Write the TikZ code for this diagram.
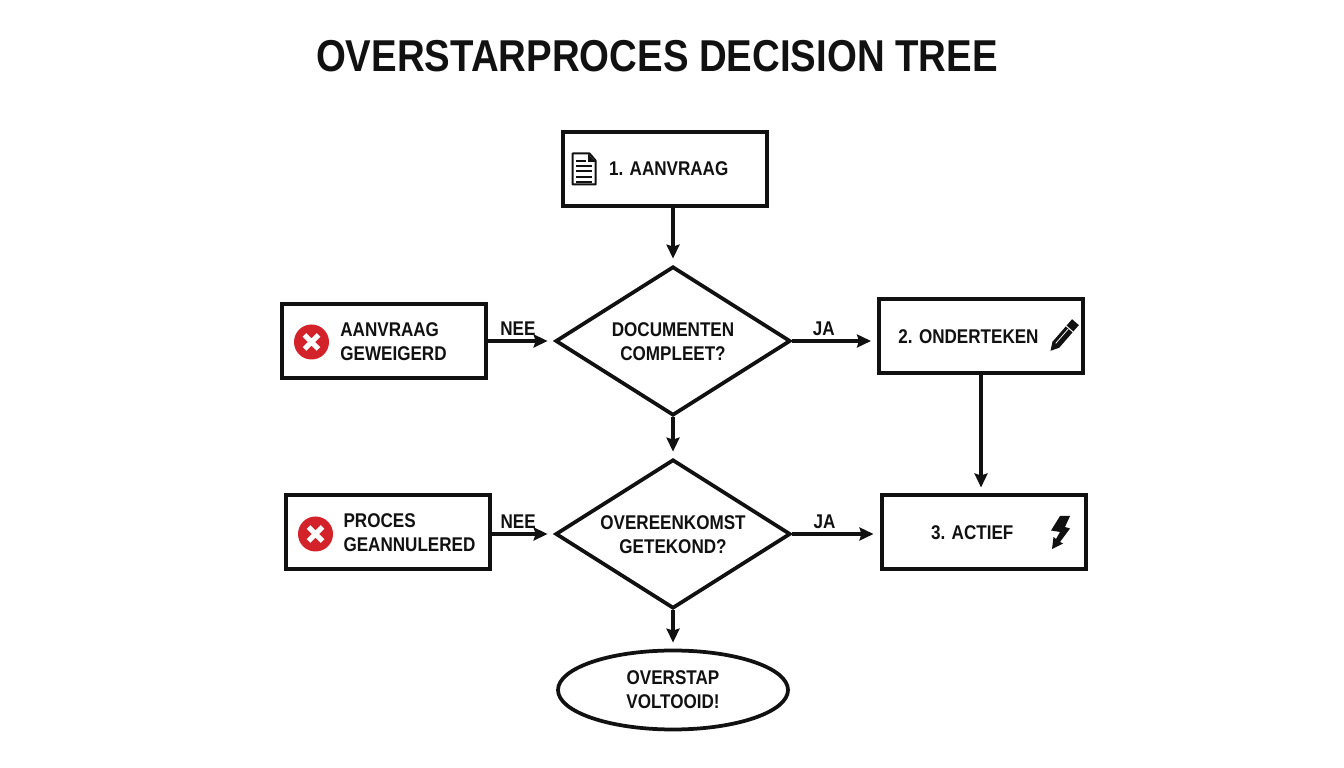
\documentclass[tikz,border=0pt]{standalone}
\usepackage{fontspec}
\setmainfont{Liberation Sans}[FakeStretch=0.86]
\usetikzlibrary{shapes.geometric,calc,arrows.meta}
\definecolor{inkblack}{HTML}{111111}
\definecolor{stopred}{HTML}{D3222A}
\newcommand{\twolines}[3][l]{\raisebox{-0.05cm}[\height][\depth]{\begin{tabular}{@{}#1@{}}#2\\#3\end{tabular}}}
\tikzstyle{basetext} = [font=\fontsize{11.3pt}{13.7pt}\selectfont\bfseries, text=inkblack]
\tikzstyle{process} = [rectangle, basetext, minimum width=4.08cm, minimum height=1.48cm, text centered, draw=inkblack, line width=0.08cm, inner sep=0pt]
\tikzstyle{decision} = [diamond, aspect=1.58, basetext, minimum width=4.7cm, minimum height=2.98cm, align=center, draw=inkblack, line width=0.075cm, inner sep=0pt]
\tikzstyle{finish} = [ellipse, basetext, minimum width=4.6cm, minimum height=1.58cm, align=center, draw=inkblack, line width=0.075cm, inner sep=0pt]
\tikzstyle{arrow} = [line width=0.065cm, draw=inkblack, ->, >={Stealth[length=0.28cm,width=0.26cm,inset=0.04cm]}, shorten >=0.12cm]
\tikzstyle{answer} = [basetext, inner sep=0.08cm]
\tikzset{
  pics/stopicon/.style={
    code={
      \fill[stopred] (0,0) circle (0.35);
      \draw[white, line width=0.1cm] (-0.14,-0.14) -- (0.14,0.14) (-0.14,0.14) -- (0.14,-0.14);
    }
  },
  pics/docicon/.style={
    code={
      \draw[inkblack, line width=0.04cm, line join=round] (-0.23,-0.31) -- (-0.23,0.31) -- (0.11,0.31) -- (0.23,0.17) -- (0.23,-0.31) -- cycle;
      \fill[inkblack] (0.08,0.31) -- (0.23,0.14) -- (0.08,0.14) -- cycle;
      \foreach \y in {0.06,-0.05,-0.16,-0.26}
        \draw[inkblack, line width=0.04cm] (-0.16,\y) -- (0.16,\y);
      \draw[inkblack, line width=0.04cm] (-0.16,0.16) -- (0.03,0.16);
    }
  },
  pics/penicon/.style={
    code={
      \begin{scope}[rotate=49]
        \fill[inkblack] (-0.38,0) -- (-0.22,0.09) -- (0.38,0.09) -- (0.38,-0.09) -- (-0.22,-0.09) -- cycle;
        \draw[white, line width=0.02cm] (0.2,0.1) -- (0.2,-0.1);
        \draw[white, line width=0.015cm] (-0.2,0.02) -- (0.18,0.02);
      \end{scope}
    }
  },
  pics/bolticon/.style={
    code={
      \fill[inkblack] (-0.01,0.33) -- (0.19,0.33) -- (0.09,0.11) -- (0.19,0.08) -- (-0.01,-0.19) -- (0.05,-0.22) -- (-0.17,-0.33) -- (-0.14,-0.09) -- (-0.09,-0.13) -- (-0.01,0.01) -- (-0.19,0.04) -- cycle;
    }
  }
}
\begin{document}
\begin{tikzpicture}[node distance=2cm]
  \useasboundingbox (0,0) rectangle (26.88,15.36);
  \node (title)[font=\fontsize{25.4pt}{30pt}\selectfont\bfseries, text=inkblack] at (13.14,14.24) {OVERSTARPROCES DECISION TREE};

  \node (check1)[decision] at (13.46,8.54) {\twolines[c]{DOCUMENTEN}{COMPLEET?}};
  \node (check2)[decision, below of=check1, node distance=3.86cm] {\twolines[c]{OVEREENKOMST}{GETEKOND?}};
  \node (done)[finish, below of=check2, node distance=3.12cm] {OVERSTAP\\VOLTOOID!};
  \node (request)[process, above of=check1, node distance=3.44cm, xshift=-0.16cm] {\hspace{0.15cm}1. AANVRAAG};
  \node (refused)[process, left of=check1, node distance=5.79cm] {\hspace{0.4cm}\twolines{AANVRAAG}{GEWEIGERD}};
  \node (cancelled)[process, left of=check2, node distance=5.71cm, yshift=0.03cm] {\hspace{0.88cm}\twolines{PROCES}{GEANNULERED}};
  \node (sign)[process, right of=check1, node distance=6.16cm, yshift=0.09cm] {\hspace{-0.5cm}2. ONDERTEKEN};
  \node (active)[process, right of=check2, node distance=6.21cm, yshift=0.03cm] {\hspace{-0.45cm}3. ACTIEF};

  \pic at ($(request.west)+(0.46,0)$) {docicon};
  \pic at ($(refused.west)+(0.64,-0.02)$) {stopicon};
  \pic at ($(cancelled.west)+(0.64,-0.03)$) {stopicon};
  \pic at ($(sign.east)+(-0.44,0.0)$) {penicon};
  \pic at ($(active.east)+(-0.54,0)$) {bolticon};

  \draw[arrow] (check1.north |- request.south) -- (check1.north);
  \draw[arrow] (refused.east |- check1.west) -- (check1.west) node[answer, above, pos=0.46]{NEE};
  \draw[arrow] (check1.east) -- (sign.west |- check1.east) node[answer, above, pos=0.37]{JA};
  \draw[arrow] (check1.south) -- (check2.north);
  \draw[arrow] (cancelled.east |- check2.west) -- (check2.west) node[answer, above, pos=0.43]{NEE};
  \draw[arrow] (check2.east) -- (active.west |- check2.east) node[answer, above, pos=0.37]{JA};
  \draw[arrow] (sign.south) -- (sign.south |- active.north);
  \draw[arrow] (check2.south) -- (done.north);
\end{tikzpicture}
\end{document}
